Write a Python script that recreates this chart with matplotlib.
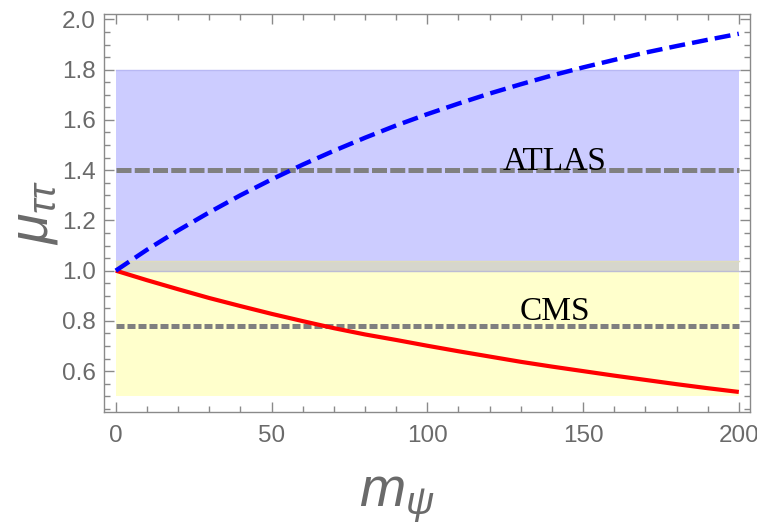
import numpy as np
import matplotlib
matplotlib.use("Agg")
import matplotlib.pyplot as plt
from matplotlib.ticker import MultipleLocator, FormatStrFormatter

# --- data -------------------------------------------------------------
m_psi = [0, 10, 20, 30, 40, 50, 60, 70, 80, 90, 100,
         110, 120, 130, 140, 150, 160, 170, 180, 190, 200]
mu_up = [1.000, 1.083, 1.160, 1.232, 1.300, 1.363, 1.422, 1.477, 1.529, 1.578, 1.623,
         1.665, 1.705, 1.742, 1.777, 1.809, 1.839, 1.868, 1.894, 1.919, 1.943]
mu_down = [1.000, 0.962, 0.926, 0.891, 0.859, 0.828, 0.799, 0.771, 0.746, 0.724, 0.701,
           0.679, 0.658, 0.637, 0.618, 0.600, 0.582, 0.565, 0.548, 0.532, 0.517]

atlas_central = 1.40
atlas_band = (1.00, 1.80)
cms_central = 0.78
cms_band = (0.50, 1.04)
experiments = ["ATLAS", "CMS"]
label_x = 141

x_range = (0, 200)

# --- style ------------------------------------------------------------
plt.rcParams["mathtext.fontset"] = "custom"
plt.rcParams["mathtext.it"] = "Liberation Sans:italic"
plt.rcParams["mathtext.rm"] = "Liberation Sans"

frame_col = "#8a8a8a"
text_col = "#6a6a6a"
blue_fill = "#ccccff"
yellow_fill = "#ffffcc"
overlap_fill = "#d6d6cc"

fig = plt.figure(figsize=(7.57, 5.29), dpi=100)
ax = fig.add_axes([0.1373, 0.2206, 0.9908 - 0.1373, 0.9732 - 0.2206])

xs = np.array(x_range)
# ATLAS-only part of the band
ax.fill_between(xs, cms_band[1], atlas_band[1], color=blue_fill, lw=0, zorder=1)
# overlap of the two bands
ax.fill_between(xs, atlas_band[0], cms_band[1], color=overlap_fill, lw=0, zorder=1)
# CMS-only part of the band
ax.fill_between(xs, cms_band[0], atlas_band[0], color=yellow_fill, lw=0, zorder=1)
# thin band edges
ax.plot(xs, [atlas_band[1]] * 2, color="#b8b8f4", lw=1.0, zorder=1.5)
ax.plot(xs, [atlas_band[0]] * 2, color="#bcbcd4", lw=1.0, zorder=1.5)
ax.plot(xs, [cms_band[1]] * 2, color="#dedcbc", lw=1.0, zorder=1.5)

# central values
ax.plot(xs, [atlas_central] * 2, color="#808080", lw=3.6,
        dashes=(3.0, 0.65), solid_capstyle="butt", dash_capstyle="butt", zorder=2)
ax.plot(xs, [cms_central] * 2, color="#808080", lw=3.6,
        dashes=(1.6, 0.6), solid_capstyle="butt", dash_capstyle="butt", zorder=2)

# model curves
ax.plot(m_psi, mu_down, color="red", lw=3.0, solid_capstyle="butt", zorder=3)
ax.plot(m_psi, mu_up, color="blue", lw=3.2, dashes=(3.6, 1.6),
        dash_capstyle="butt", zorder=3)

ax.text(label_x, atlas_central, experiments[0], family="Liberation Serif",
        fontsize=24, color="black", ha="center", va="baseline", zorder=4)
ax.text(label_x, cms_central + 0.022, experiments[1], family="Liberation Serif",
        fontsize=24, color="black", ha="center", va="baseline", zorder=4)

# frame and ticks
ax.set_xlim(-3.8, 203.6)
ax.set_ylim(0.436, 2.021)
ax.xaxis.set_major_locator(MultipleLocator(50))
ax.xaxis.set_minor_locator(MultipleLocator(10))
ax.yaxis.set_major_locator(MultipleLocator(0.2))
ax.yaxis.set_minor_locator(MultipleLocator(0.05))
ax.yaxis.set_major_formatter(FormatStrFormatter("%.1f"))
for s in ax.spines.values():
    s.set_color(frame_col)
    s.set_linewidth(1.0)
ax.tick_params(which="both", direction="in", top=True, right=True,
               color=frame_col, width=1.0)
ax.tick_params(which="major", length=7, labelsize=17.5, labelcolor=text_col)
ax.tick_params(axis="y", which="major", pad=6)
ax.tick_params(axis="x", which="major", pad=9)
ax.tick_params(which="minor", length=4.5)
for lab in ax.get_xticklabels() + ax.get_yticklabels():
    lab.set_family("Liberation Sans")

fig.text(0.043, 0.598, r"$\mu_{\tau\tau}$", rotation=90, fontsize=40,
         color=text_col, ha="center", va="center")
fig.text(0.524, 0.058, r"$m_{\psi}$", fontsize=40, color=text_col,
         ha="center", va="center")

fig.savefig("out.png", dpi=100)
